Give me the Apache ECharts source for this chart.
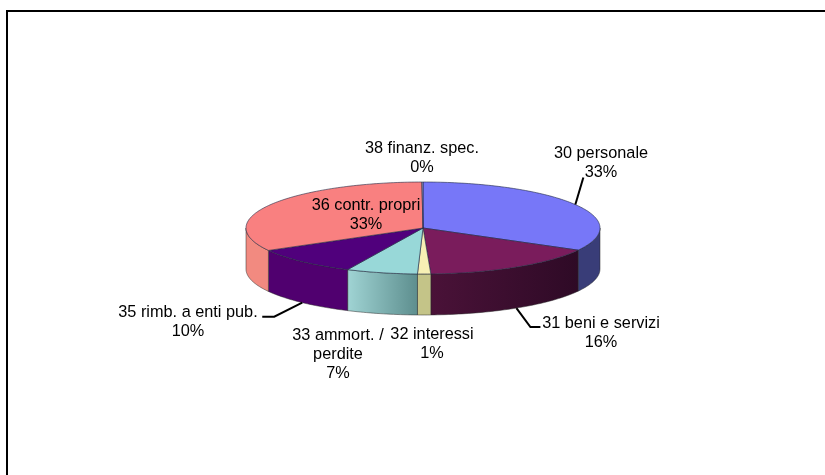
<!DOCTYPE html>
<html>
<head>
<meta charset="utf-8">
<style>html,body{margin:0;padding:0;background:#fff}#c{width:825px;height:475px}</style>
<script src="https://cdn.jsdelivr.net/npm/echarts@6/dist/echarts.min.js"></script>
</head>
<body>
<div id="c"></div>
<script>
const categories = ['30 personale','31 beni e servizi','32 interessi','33 ammort. /\nperdite','35 rimb. a enti pub.','36 contr. propri','38 finanz. spec.'];
const values = [33, 16.3, 1.2, 6.5, 9.9, 33, 0.1];
const topColors = ['#7777f8','#7a1c5c','#f7f0b4','#98d8d8','#50007c','#f98080','#b0b0e0'];
const sideStart = ['#393d78','#4a1238','#c4c488','#a0d4d4','#50006f','#f28a80','#888888'];
const sideEnd = ['#393d78','#2e0a26','#c4c488','#5d8e8e','#50006f','#f28a80','#888888'];

// layout of the tilted disc, in pixels
const CX = 423, CY = 228, RX = 177, RY = 46, DEPTH = 41;
// label centre (first line top) and leader route relative to the slice anchor
const labelAt = [
  {x: 601, y: 144, leader: [[8, -27]]},
  {x: 601, y: 314, leader: [[14, 19], [24, 19]], bottom: true},
  {x: 432, y: 325},
  {x: 338, y: 326},
  {x: 188, y: 303, leader: [[-28, 14], [-40, 14]], bottom: true},
  {x: 366, y: 196},
  {x: 422, y: 139}
];

const total = values.reduce((a, b) => a + b, 0);
const starts = [];
values.reduce((acc, v, i) => { starts[i] = acc; return acc + v; }, 0);
const ang = v => v / total * 2 * Math.PI;
const pt = (t, dy) => [CX + RX * Math.sin(t), CY - RY * Math.cos(t) + (dy || 0)];
function arc(a, b, dy) {
  const n = Math.max(2, Math.ceil((b - a) / 0.02));
  const out = [];
  for (let k = 0; k <= n; k++) out.push(pt(a + (b - a) * k / n, dy));
  return out;
}

function renderSlice(params, api) {
  const i = api.value(0);
  const a = ang(starts[i]), b = ang(starts[i] + values[i]);
  const children = [];
  const fa = Math.max(a, Math.PI / 2), fb = Math.min(b, 3 * Math.PI / 2);
  if (fb > fa) {
    const pts = arc(fa, fb, 0).concat(arc(fa, fb, DEPTH).reverse());
    children.push({
      type: 'polygon',
      shape: {points: pts},
      style: {
        fill: new echarts.graphic.LinearGradient(0, 0, 1, 0, [
          {offset: 0, color: sideStart[i]}, {offset: 1, color: sideEnd[i]}
        ]),
        stroke: '#2a2a2a', lineWidth: 0.5
      }
    });
  }
  children.push({
    type: 'polygon',
    shape: {points: [[CX, CY]].concat(arc(a, b, 0))},
    style: {fill: topColors[i], stroke: '#222a44', lineWidth: 0.6}
  });
  return {type: 'group', children};
}

function renderLabel(params, api) {
  const i = api.value(0);
  const mid = ang(starts[i] + values[i] / 2);
  const L = labelAt[i];
  const children = [];
  if (L.leader) {
    const p0 = pt(mid, L.bottom ? DEPTH : 0);
    children.push({
      type: 'polyline',
      shape: {points: [p0].concat(L.leader.map(d => [p0[0] + d[0], p0[1] + d[1]]))},
      style: {fill: null, stroke: '#000', lineWidth: 2}
    });
  }
  const pct = Math.round(values[i] / total * 100) + '%';
  children.push({
    type: 'text',
    style: {
      x: L.x, y: L.y, text: categories[i] + '\n' + pct,
      fill: '#000', font: '16.3px "Liberation Sans", Arial, sans-serif',
      align: 'center', verticalAlign: 'top', lineHeight: 19
    }
  });
  return {type: 'group', children};
}

const rows = categories.map((c, i) => [i]);
const chart = echarts.init(document.getElementById('c'), null, {renderer: 'canvas'});
chart.setOption({
  animation: false,
  backgroundColor: '#ffffff',
  graphic: [{
    type: 'rect', silent: true,
    shape: {x: 7, y: 11, width: 840, height: 490},
    style: {fill: 'none', stroke: '#000', lineWidth: 2}
  }],
  series: [
    {type: 'custom', coordinateSystem: 'none', renderItem: renderSlice, data: rows, z: 2, silent: true},
    {type: 'custom', coordinateSystem: 'none', renderItem: renderLabel, data: rows, z: 3, silent: true}
  ]
});
</script>
</body>
</html>
